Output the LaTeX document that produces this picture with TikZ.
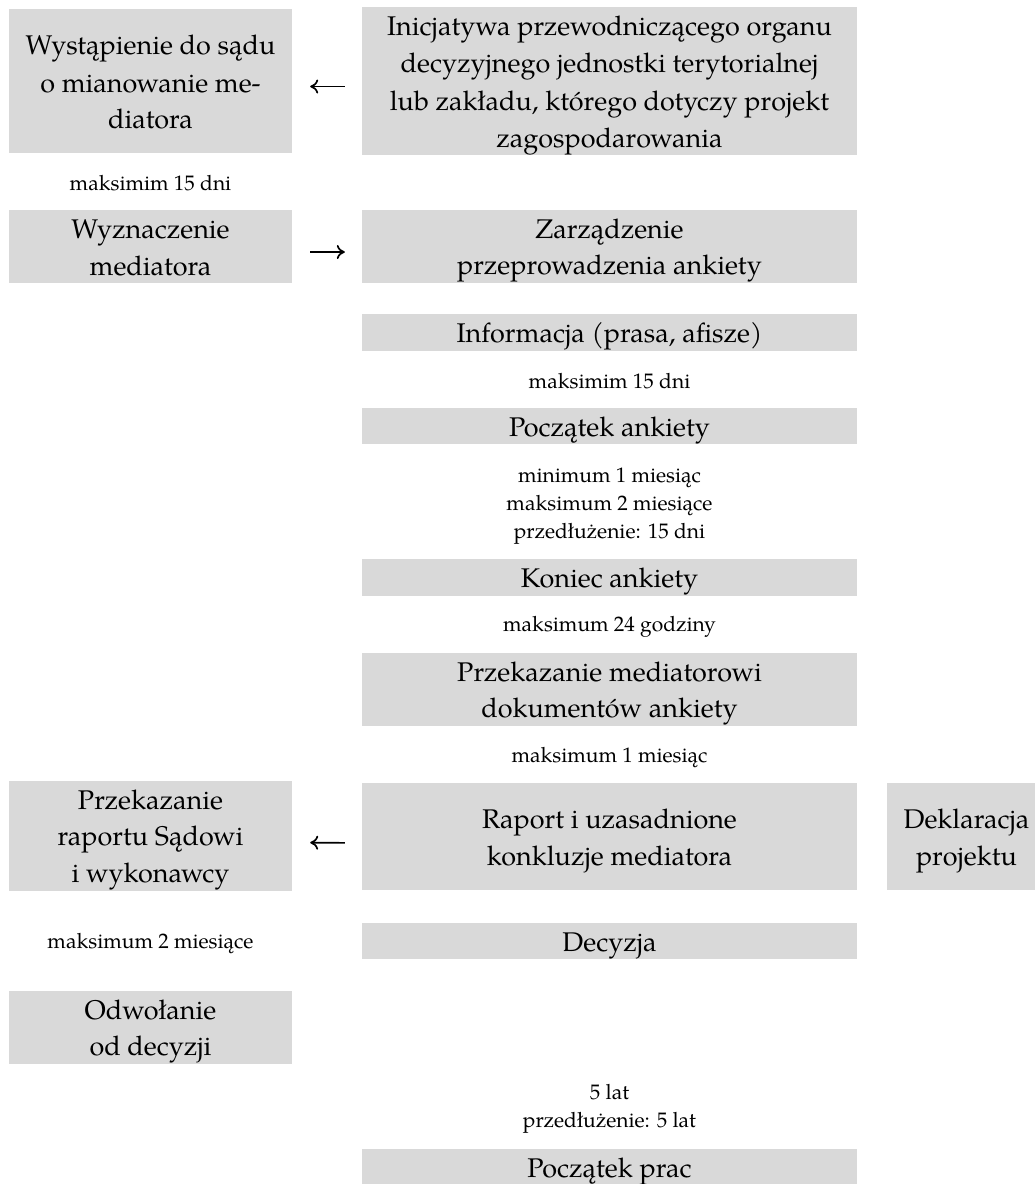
\documentclass[tikz,border=0pt]{standalone}
\usepackage{fontspec}
\setmainfont{TeX Gyre Pagella}
\usetikzlibrary{arrows.meta}
\definecolor{boxgray}{HTML}{D9D9D9}
\newcommand\bxs{\rule[-7.5pt]{0pt}{36pt}}
\newcommand\nts{\rule[-8pt]{0pt}{28pt}}
\tikzset{
  box/.style={fill=boxgray, inner sep=0pt, align=center, font=\fontsize{27}{36}\selectfont},
  note/.style={inner sep=0pt, align=center, font=\fontsize{21}{28}\selectfont},
  arr/.style={line width=1.7pt, -{Computer Modern Rightarrow[length=8pt,width=14pt]}},
}
\begin{document}
\begin{tikzpicture}[x=1pt,y=-1pt]
\useasboundingbox (0,0) rectangle (1034,1184);
% left column
\node[box, minimum width=283pt, minimum height=144pt] (b1l) at (150.5,81)
  {\bxs Wystąpienie do sądu\\\bxs o mianowanie me-\\\bxs diatora};
\node[note] (t1) at (150.5,184) {\nts maksimim 15 dni};
\node[box, minimum width=283pt, minimum height=73pt] (b2l) at (150.5,246.5)
  {\bxs Wyznaczenie\\\bxs mediatora};
\node[box, minimum width=283pt, minimum height=108pt] (pr) at (150.5,836)
  {\bxs Przekazanie\\\bxs raportu Sądowi\\\bxs i wykonawcy};
\node[note] (t6) at (150.5,942) {\nts maksimum 2 miesiące};
\node[box, minimum width=283pt, minimum height=71pt] (od) at (150.5,1027.5)
  {\bxs Odwołanie\\\bxs od decyzji};
% middle column
\node[box, minimum width=495pt, minimum height=144pt] (b1r) at (609.5,81)
  {\bxs Inicjatywa przewodniczącego organu\\\bxs decyzyjnego jednostki terytorialnej\\\bxs lub zakładu, którego dotyczy projekt\\\bxs zagospodarowania};
\node[box, minimum width=495pt, minimum height=73pt] (b2r) at (609.5,246.5)
  {\bxs Zarządzenie\\\bxs przeprowadzenia ankiety};
\node[box, minimum width=495pt, minimum height=37pt] (inf) at (609.5,332.5)
  {\bxs Informacja (prasa, afisze)};
\node[note] (t2) at (609.5,382) {\nts maksimim 15 dni};
\node[box, minimum width=495pt, minimum height=36pt] (pa) at (609.5,426)
  {\bxs Początek ankiety};
\node[note] (t3) at (609.5,504)
  {\nts minimum 1 miesiąc\\\nts maksimum 2 miesiące\\\nts przedłużenie: 15 dni};
\node[box, minimum width=495pt, minimum height=37pt] (ka) at (609.5,577.5)
  {\bxs Koniec ankiety};
\node[note] (t4) at (609.5,625) {\nts maksimum 24 godziny};
\node[box, minimum width=495pt, minimum height=73pt] (pm) at (609.5,689.5)
  {\bxs Przekazanie mediatorowi\\\bxs dokumentów ankiety};
\node[note] (t5) at (609.5,756) {\nts maksimum 1 miesiąc};
\node[box, minimum width=495pt, minimum height=107pt] (ra) at (609.5,836.5)
  {\bxs Raport i uzasadnione\\\bxs konkluzje mediatora};
\node[box, minimum width=495pt, minimum height=36pt] (de) at (609.5,941)
  {\bxs Decyzja};
\node[note] (t7) at (609.5,1107) {\nts 5 lat\\\nts przedłużenie: 5 lat};
\node[box, minimum width=495pt, minimum height=36pt] (pp) at (609.5,1167)
  {\bxs Początek prac};
% right column
\node[box, minimum width=159pt, minimum height=107pt] (dk) at (966.5,836.5)
  {\bxs Deklaracja\\\bxs projektu};
% arrows
\draw[arr, shorten <=17pt, shorten >=18pt] ([yshift=-5.5pt]b1r.west) -- ([yshift=-5.5pt]b1l.east);
\draw[arr, shorten <=18pt, shorten >=17pt] ([yshift=-5.5pt]b2l.east) -- ([yshift=-5.5pt]b2r.west);
\draw[arr, shorten <=17pt, shorten >=18pt] ([yshift=-6.5pt]ra.west) -- ([yshift=-6.5pt]pr.east);
\end{tikzpicture}
\end{document}
